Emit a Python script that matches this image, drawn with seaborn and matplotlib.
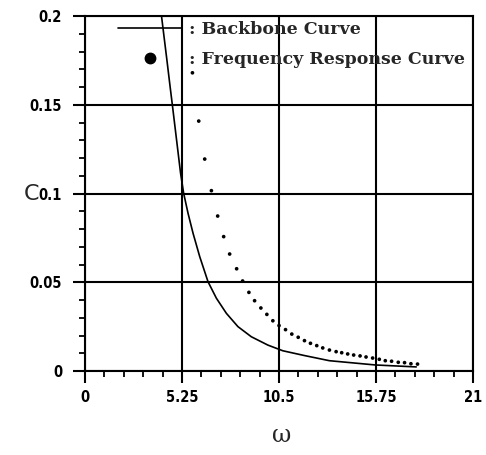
import matplotlib
matplotlib.use("Agg")
import matplotlib.pyplot as plt
from matplotlib.lines import Line2D
from matplotlib.ticker import FixedLocator, FixedFormatter, MultipleLocator
from matplotlib.font_manager import FontProperties
import seaborn as sns
import pandas as pd

# ---------------- data ----------------
backbone_omega = [4.141, 4.244, 4.433, 4.606, 4.735, 4.957, 5.173, 5.340,
                  5.578, 5.848, 6.210, 6.658, 7.111, 7.651, 8.277, 9.001,
                  9.897, 10.707, 11.879, 13.229, 15.713, 17.927]
backbone_c = [0.2000, 0.1912, 0.1752, 0.1602, 0.1493, 0.1301, 0.1114, 0.1001,
              0.0888, 0.0776, 0.0644, 0.0503, 0.0410, 0.0325, 0.0250, 0.0193,
              0.0146, 0.0114, 0.0087, 0.0058, 0.0034, 0.0023]

freq_omega = [5.815, 6.156, 6.479, 6.841, 7.181, 7.505, 7.829, 8.207, 8.531,
              8.871, 9.179, 9.519, 9.843, 10.167, 10.502, 10.853, 11.193,
              11.539, 11.879, 12.203, 12.543, 12.867, 13.229, 13.591, 13.893,
              14.217, 14.541, 14.887, 15.211, 15.567, 15.929, 16.253, 16.593,
              16.955, 17.295, 17.640, 17.997]
freq_c = [0.1680, 0.1408, 0.1194, 0.1016, 0.0873, 0.0757, 0.0659, 0.0576,
          0.0507, 0.0443, 0.0396, 0.0355, 0.0319, 0.0283, 0.0256, 0.0233,
          0.0208, 0.0190, 0.0171, 0.0156, 0.0143, 0.0130, 0.0118, 0.0109,
          0.0103, 0.0096, 0.0090, 0.0085, 0.0079, 0.0073, 0.0066, 0.0058,
          0.0055, 0.0049, 0.0047, 0.0041, 0.0039]

x_ticks = [0, 5.25, 10.5, 15.75, 21]
x_tick_labels = ["0", "5.25", "10.5", "15.75", "21"]
y_ticks = [0, 0.05, 0.1, 0.15, 0.2]
y_tick_labels = ["0", "0.05", "0.1", "0.15", "0.2"]
legend_labels = [": Backbone Curve", ": Frequency Response Curve"]
x_label = "\u03c9"
y_label = "C"

# ---------------- style ----------------
sns.set_style("white")
plt.rcParams["font.family"] = ["DejaVu Sans"]

tick_fp = FontProperties(family="DejaVu Sans", stretch="condensed",
                         weight="bold", size=10.5)

fig = plt.figure(figsize=(4.86, 4.55), dpi=100)
ax = fig.add_axes([85 / 486, 1 - 371 / 455, 388 / 486, 355 / 455])

bb = pd.DataFrame({"omega": backbone_omega, "C": backbone_c})
fr = pd.DataFrame({"omega": freq_omega, "C": freq_c})

sns.lineplot(data=bb, x="omega", y="C", ax=ax, color="black", linewidth=1.2,
             sort=False, estimator=None, zorder=3)
sns.scatterplot(data=fr, x="omega", y="C", ax=ax, color="black", s=7,
                edgecolor="none", zorder=3)

ax.set_xlim(0, 21)
ax.set_ylim(0, 0.2)

ax.xaxis.set_major_locator(FixedLocator(x_ticks))
ax.xaxis.set_major_formatter(FixedFormatter(x_tick_labels))
ax.yaxis.set_major_locator(FixedLocator(y_ticks))
ax.yaxis.set_major_formatter(FixedFormatter(y_tick_labels))
ax.xaxis.set_minor_locator(MultipleLocator(1.05))
ax.yaxis.set_minor_locator(MultipleLocator(0.01))

ax.grid(True, which="major", color="black", linewidth=1.5)
ax.set_axisbelow(False)
for s in ax.spines.values():
    s.set_visible(True)
    s.set_color("black")
    s.set_linewidth(1.5)

ax.tick_params(which="major", direction="out", length=8.5, width=1.5,
               colors="black", bottom=True, left=True)
ax.tick_params(which="minor", direction="out", length=4, width=1.3,
               colors="black", bottom=True, left=True)
ax.tick_params(axis="x", which="major", pad=5)
ax.tick_params(axis="y", which="major", pad=8)
for lab in ax.get_xticklabels() + ax.get_yticklabels():
    lab.set_fontproperties(tick_fp)

ax.set_xlabel(x_label, family="DejaVu Serif", fontsize=17, va="center")
ax.xaxis.set_label_coords(0.508, -0.183)
ax.set_ylabel(y_label, family="DejaVu Sans", fontsize=16, rotation=0,
              va="center", ha="center")
ax.yaxis.set_label_coords(-0.138, 0.5)

handles = [Line2D([], [], color="black", linewidth=1.2),
           Line2D([], [], color="black", linestyle="none", marker="o",
                  markersize=7.5)]
leg = ax.legend(handles, legend_labels, loc="upper left",
                bbox_to_anchor=(30 / 388, 1.0 - 1.5 / 355), frameon=False,
                handlelength=3.6, handletextpad=0.45, labelspacing=0.75,
                borderpad=0.2, borderaxespad=0.0,
                prop={"family": "DejaVu Serif", "weight": "bold", "size": 12.5})

fig.savefig("out.png", dpi=100)
